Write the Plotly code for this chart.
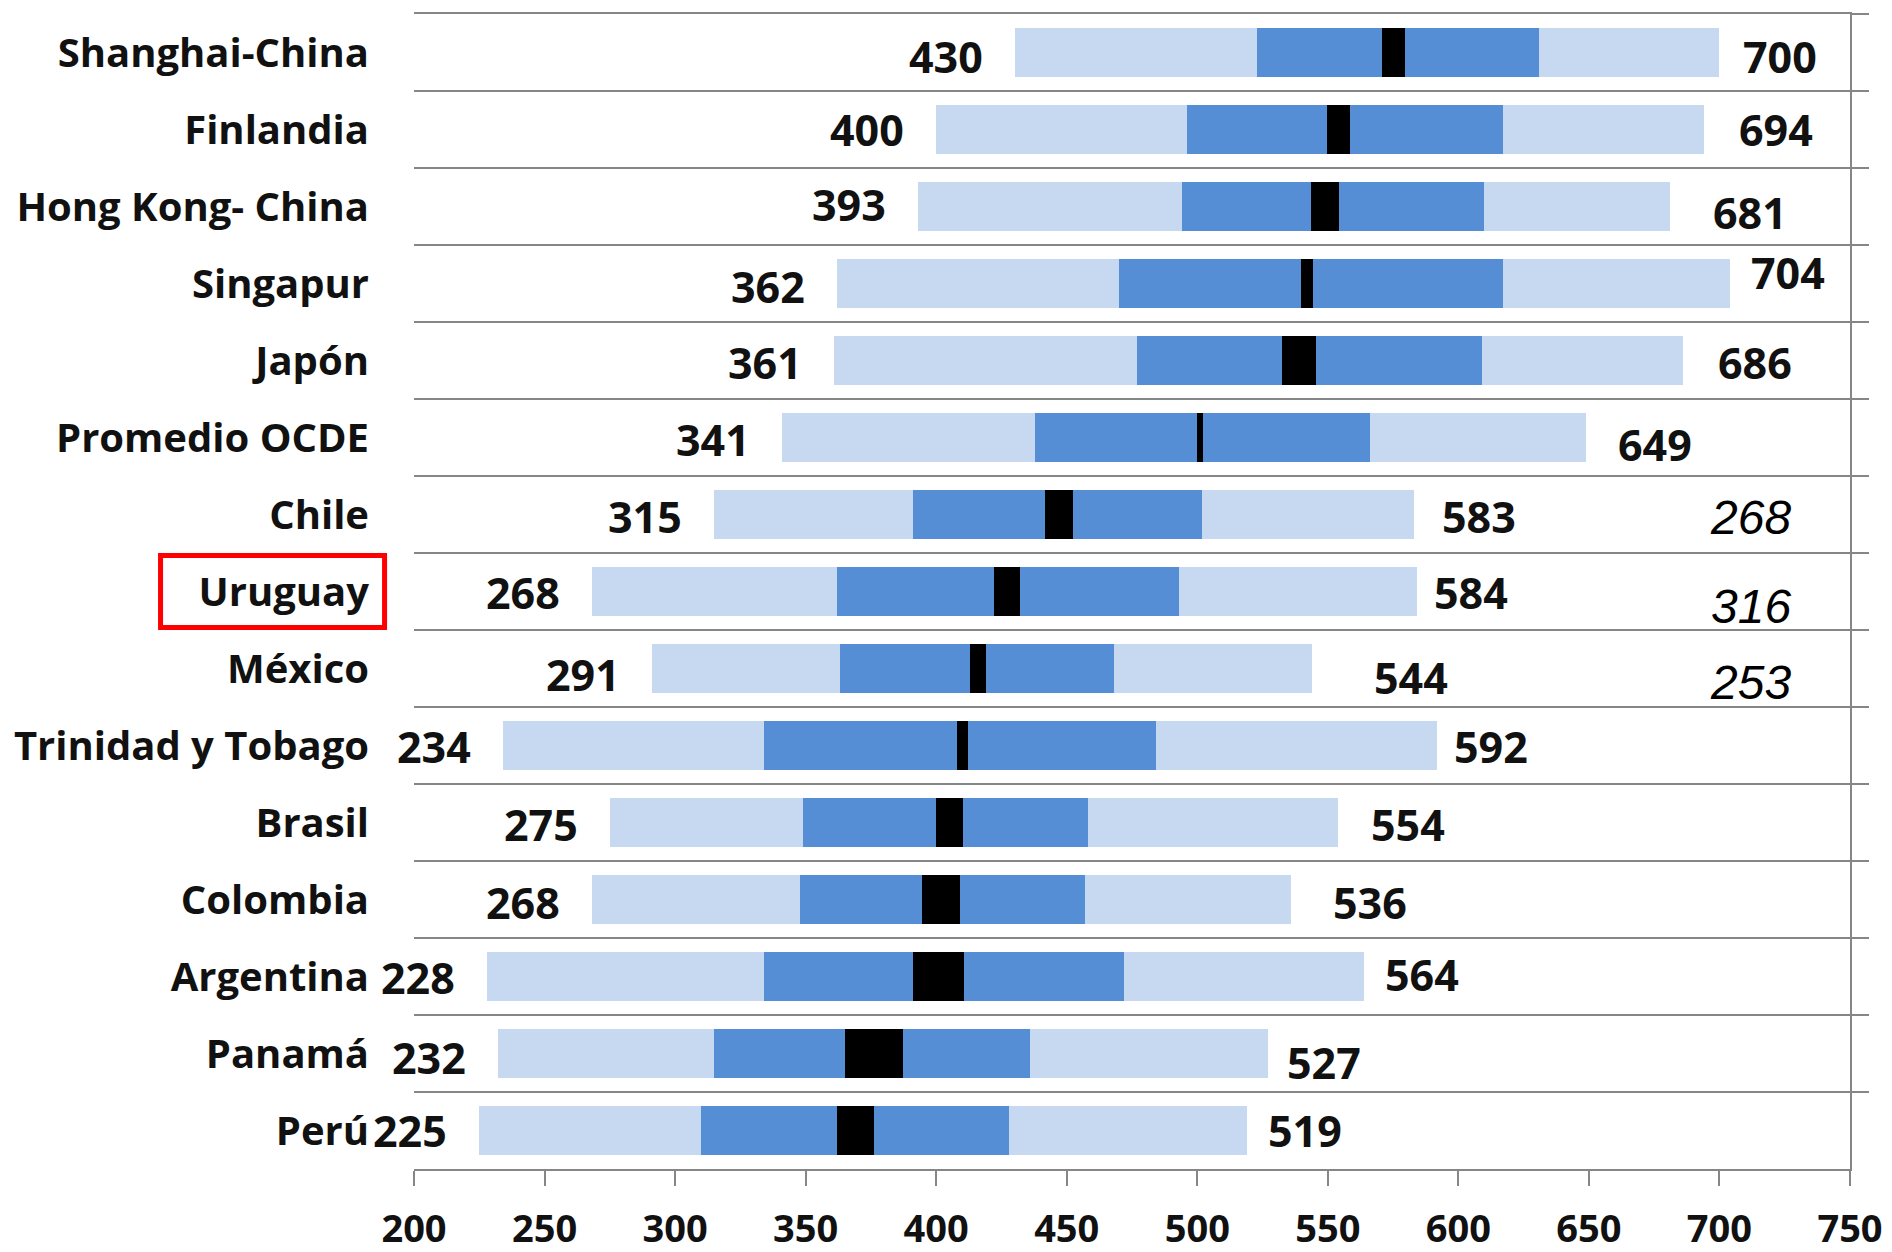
import plotly.graph_objects as go

# PISA science scores: percentiles 5/25/75/95, mean and 95% confidence half-width
paises = ["Shanghai-China", "Finlandia", "Hong Kong- China", "Singapur", "Japón",
          "Promedio OCDE", "Chile", "Uruguay", "México", "Trinidad y Tobago",
          "Brasil", "Colombia", "Argentina", "Panamá", "Perú"]
p5 = [430, 400, 393, 362, 361, 341, 315, 268, 291, 234, 275, 268, 228, 232, 225]
p25 = [523, 496, 494, 470, 477, 438, 391, 362, 363, 334, 349, 348, 334, 315, 310]
media = [575, 554, 549, 542, 539, 501, 447, 427, 416, 410, 405, 402, 401, 376, 369]
ic95 = [4.4, 4.4, 5.3, 2.4, 6.6, 1.1, 5.3, 5.0, 3.1, 2.2, 5.1, 7.3, 9.7, 11.1, 7.0]
p75 = [631, 617, 610, 617, 609, 566, 502, 493, 468, 484, 458, 457, 472, 436, 428]
p95 = [700, 694, 681, 704, 686, 649, 583, 584, 544, 592, 554, 536, 564, 527, 519]
eje_ticks = [200, 250, 300, 350, 400, 450, 500, 550, 600, 650, 700, 750]
resaltado = "Uruguay"
con_rango = ["Chile", "Uruguay", "México"]

# label placement tweaks (pixels)
gap_der = [22, 33, 41, 19, 33, 30, 26, 15, 60, 15, 31, 40, 19, 17, 19]
dy_der = [4, 0, 6, -11, 2, 7, 2, 1, 9, 1, 2, 3, -2, 9, 0]
dy_izq = [4, 0, -2, 3, 2, 2, 2, 1, 6, 1, 2, 3, 1, 4, 0]
dy_rango = {"Chile": 3, "Uruguay": 15, "México": 14}

AZUL_CLARO = "#C6D9F1"
AZUL = "#558ED5"
GRIS = "#868686"
FUENTE = dict(family="Open Sans", size=43, color="#111111", weight="bold")
ANCHO = 0.63
n = len(paises)

fig = go.Figure()
fig.add_trace(go.Bar(y=paises, x=[b - a for a, b in zip(p5, p95)], base=p5,
                     orientation="h", width=ANCHO, marker=dict(color=AZUL_CLARO, line_width=0),
                     hoverinfo="skip", showlegend=False))
fig.add_trace(go.Bar(y=paises, x=[b - a for a, b in zip(p25, p75)], base=p25,
                     orientation="h", width=ANCHO, marker=dict(color=AZUL, line_width=0),
                     hoverinfo="skip", showlegend=False))
fig.add_trace(go.Bar(y=paises, x=[2 * h for h in ic95], base=[m - h for m, h in zip(media, ic95)],
                     orientation="h", width=ANCHO, marker=dict(color="#000000", line_width=0),
                     hoverinfo="skip", showlegend=False, yaxis="y2"))

anots = []
for i, pais in enumerate(paises):
    anots.append(dict(x=p5[i], y=pais, xref="x", yref="y", text=str(p5[i]),
                      xanchor="right", yanchor="middle", xshift=-30, yshift=-dy_izq[i],
                      showarrow=False, font=FUENTE))
    anots.append(dict(x=p95[i], y=pais, xref="x", yref="y", text=str(p95[i]),
                      xanchor="left", yanchor="middle", xshift=gap_der[i], yshift=-dy_der[i],
                      showarrow=False, font=FUENTE))
for pais in con_rango:
    i = paises.index(pais)
    anots.append(dict(x=712, y=pais, xref="x", yref="y", text="<i>%d</i>" % (p95[i] - p5[i]),
                      xanchor="center", yanchor="middle", yshift=-dy_rango[pais],
                      showarrow=False,
                      font=dict(family="Liberation Sans", size=48, color="#000000")))

# red frame around the highlighted country label
k = paises.index(resaltado)
fig.add_shape(type="rect", xref="paper", yref="paper",
              x0=-0.1765, x1=-0.0205,
              y0=1 - (k + 1) / n + 0.0022, y1=1 - k / n - 0.0022,
              line=dict(color="#FF0000", width=5), fillcolor="rgba(0,0,0,0)")

fig.update_layout(
    width=1892, height=1252,
    margin=dict(l=414, r=42, t=14, b=83, autoexpand=False),
    paper_bgcolor="white", plot_bgcolor="white",
    barmode="overlay", bargap=0,
    annotations=anots,
    xaxis=dict(range=[200, 750], tickvals=eje_ticks, showgrid=False, zeroline=False,
               showline=True, linecolor=GRIS, linewidth=2, mirror=True, automargin=False,
               ticks="outside", ticklen=15, tickwidth=2, tickcolor=GRIS,
               tickfont=dict(family="Open Sans", size=38, color="#111111", weight="bold"),
               ticklabelstandoff=10),
    yaxis=dict(type="category", categoryorder="array", categoryarray=paises,
               range=[n - 0.5, -0.5], tickson="boundaries", ticks="", automargin=False,
               showgrid=True, gridcolor=GRIS, gridwidth=2, showline=False, zeroline=False,
               tickfont=dict(family="Open Sans", size=40, color="#111111", weight="bold"),
               ticklabelstandoff=44),
    yaxis2=dict(type="category", categoryorder="array", categoryarray=paises,
                overlaying="y", side="right", range=[n - 0.5, -0.5], automargin=False,
                tickson="boundaries", ticks="outside", ticklen=17, tickwidth=2, tickcolor=GRIS,
                showticklabels=False, showgrid=False, zeroline=False,
                showline=True, linecolor=GRIS, linewidth=2),
)

fig.write_html("out.html")
